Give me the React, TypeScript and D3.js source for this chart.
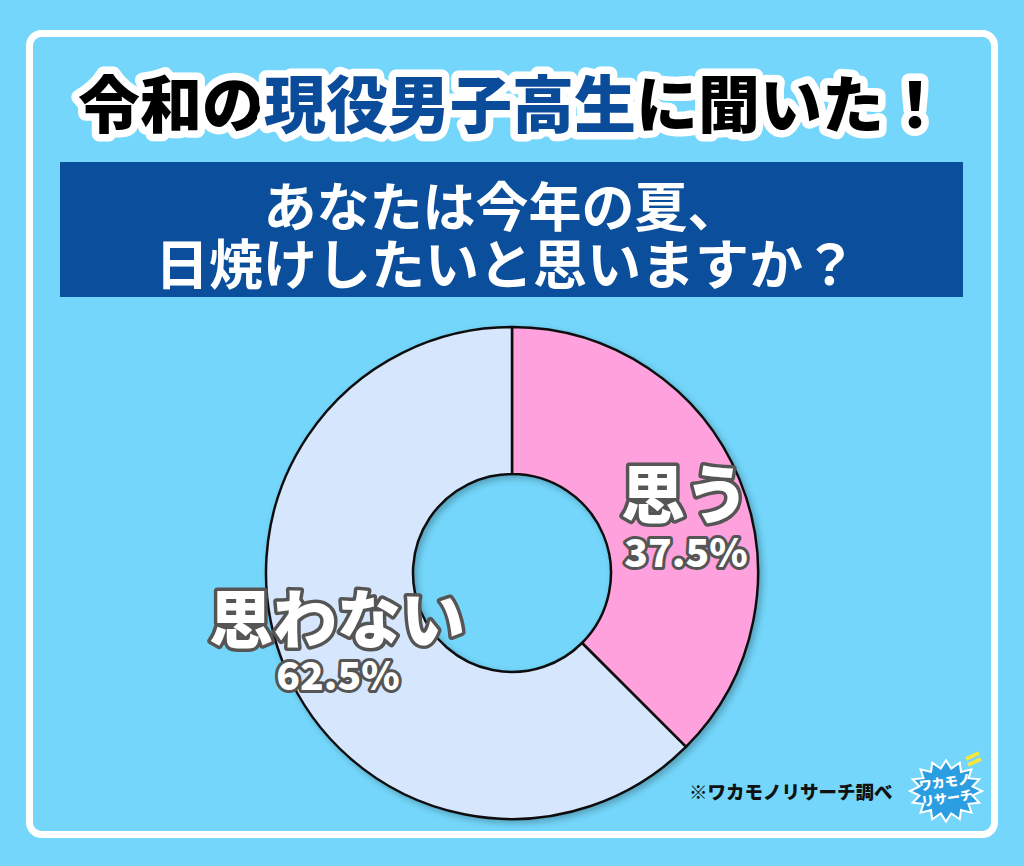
import React from "react";
import * as d3 from "d3";

const categories = ["思う", "思わない"];
const values = [37.5, 62.5];
const percentLabels = ["37.5%", "62.5%"];
const sliceColors = ["#ffa1dc", "#d6e7fd"];
const titleParts = [
  { text: "令和の", color: "#000000" },
  { text: "現役男子高生", color: "#0b4c9a" },
  { text: "に聞いた！", color: "#000000" },
];
const questionLines = ["あなたは今年の夏、", "日焼けしたいと思いますか？"];
const sourceNote = "※ワカモノリサーチ調べ";

const W = 1024;
const H = 866;
const cx = 512;
const cy = 573;
const outerR = 246;
const innerR = 99;

export default function App() {
  const pie = d3.pie<number>().sort(null).value((d) => d);
  const arcs = pie(values);
  const arc = d3.arc<d3.PieArcDatum<number>>().innerRadius(innerR).outerRadius(outerR);

  const font = "'Noto Sans CJK JP', 'Noto Sans', sans-serif";

  const burst: [number, number][] = [];
  const n = 16;
  for (let i = 0; i < n * 2; i++) {
    const a = (i / (n * 2)) * Math.PI * 2;
    const r = i % 2 === 0 ? 36 : 27;
    burst.push([Math.cos(a) * r, Math.sin(a) * r * 0.85]);
  }
  const burstPath = d3.line()(burst) + "Z";

  return (
    <svg width={W} height={H} style={{ position: "absolute", left: 0, top: 0, display: "block" }}>
      <defs>
        <filter id="sh" x="-10%" y="-10%" width="120%" height="120%">
          <feDropShadow dx="3" dy="3" stdDeviation="3" floodColor="#000" floodOpacity="0.25" />
        </filter>
      </defs>
      <rect x={0} y={0} width={W} height={H} fill="#73d6fa" />
      <rect x={29.5} y={33.5} width={965} height={801} rx={12} fill="#73d6fa" stroke="#ffffff" strokeWidth={7} />

      {/* Title */}
      <text
        x={512}
        y={128}
        textAnchor="middle"
        fontFamily={font}
        fontWeight={900}
        fontSize={62}
        stroke="#ffffff"
        strokeWidth={15}
        strokeLinejoin="round"
        paintOrder="stroke"
      >
        {titleParts.map((p, i) => (
          <tspan key={i} fill={p.color}>
            {p.text}
          </tspan>
        ))}
      </text>

      {/* Question banner */}
      <rect x={60} y={162} width={903} height={135} fill="#0b4f9c" />
      {questionLines.map((l, i) => (
        <text
          key={i}
          x={i === 0 ? 502 : 506}
          y={227 + i * 58}
          textAnchor="middle"
          fontFamily={font}
          fontWeight={700}
          fontSize={i === 0 ? 53 : 54}
          fill="#ffffff"
        >
          {l}
        </text>
      ))}

      {/* Donut */}
      <g transform={`translate(${cx},${cy})`} filter="url(#sh)">
        {arcs.map((a, i) => (
          <path key={i} d={arc(a) || ""} fill={sliceColors[i]} stroke="#111" strokeWidth={2.5} strokeLinejoin="round" />
        ))}
      </g>

      {/* Labels */}
      {[
        { x: 685, y: 518, px: 686, py: 567 },
        { x: 337, y: 643, px: 338, py: 690 },
      ].map((p, i) => (
        <g key={i}>
          <text
            x={p.x}
            y={p.y}
            textAnchor="middle"
            fontFamily={font}
            fontWeight={900}
            fontSize={64}
            fill="#ffffff"
            stroke="#555555"
            strokeWidth={7}
            strokeLinejoin="round"
            paintOrder="stroke"
          >
            {categories[i]}
          </text>
          <text
            x={p.px}
            y={p.py}
            textAnchor="middle"
            fontFamily={font}
            fontWeight={900}
            fontSize={39}
            fill="#ffffff"
            stroke="#555555"
            strokeWidth={6}
            strokeLinejoin="round"
            paintOrder="stroke"
          >
            {percentLabels[i]}
          </text>
        </g>
      ))}

      {/* Source */}
      <text x={689} y={799} fontFamily={font} fontWeight={900} fontSize={18.5} fill="#111">
        {sourceNote}
      </text>
      <g transform="translate(946,791)">
        <path d={burstPath} fill="#2a9ee0" stroke="#ffffff" strokeWidth={2} />
        <path d="M20,-32 l13,-6 M22,-26 l13,-6" stroke="#f5e642" strokeWidth={4} />
        <text x={0} y={-4} textAnchor="middle" fontFamily={font} fontWeight={900} fontSize={13} fill="#ffffff" transform="rotate(-8)">
          ワカモノ
        </text>
        <text x={0} y={12} textAnchor="middle" fontFamily={font} fontWeight={900} fontSize={13} fill="#ffffff" transform="rotate(-8)">
          リサーチ
        </text>
      </g>
    </svg>
  );
}
